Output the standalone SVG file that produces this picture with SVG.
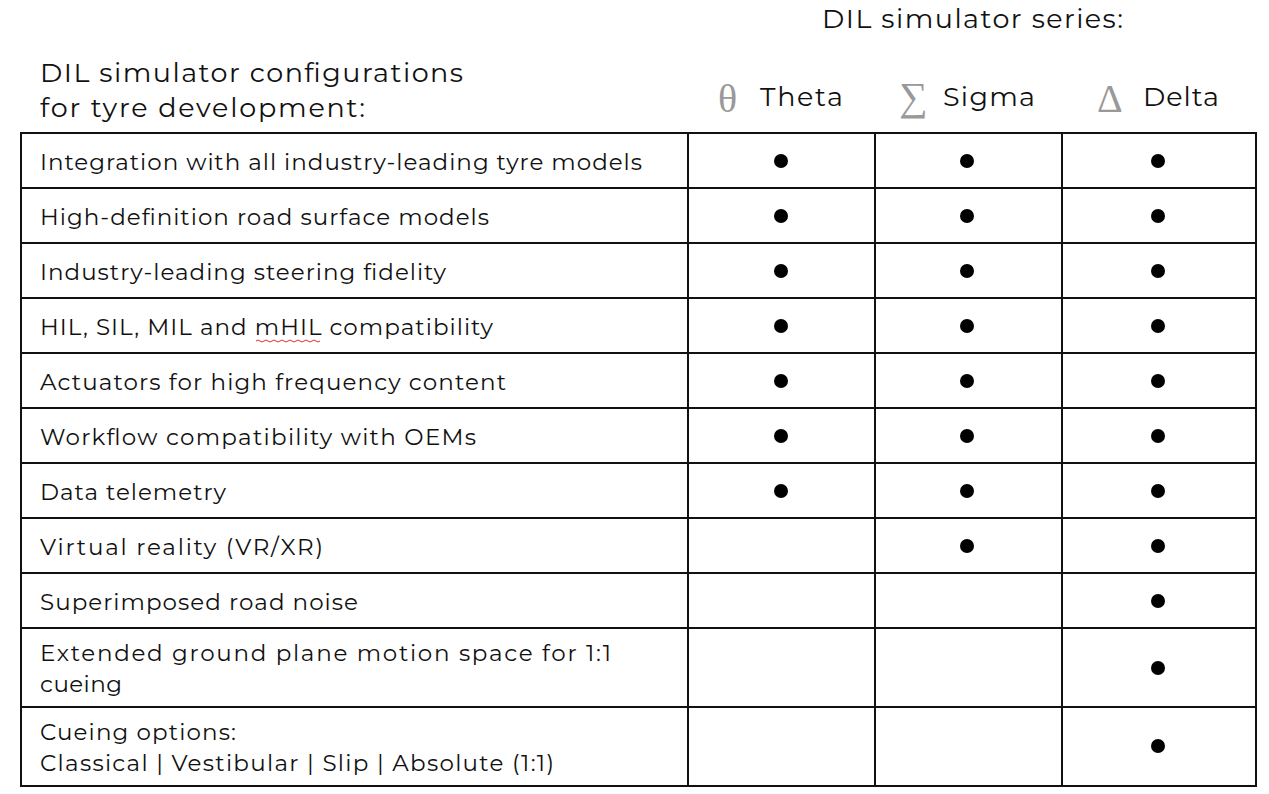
<svg xmlns="http://www.w3.org/2000/svg" width="1269" height="794" viewBox="0 0 1269 794">
<style>
.t{font-family:"Montserrat","Liberation Sans",Arial,sans-serif;font-size:23px;fill:#111}
.h{font-family:"Montserrat","Liberation Sans",Arial,sans-serif;font-size:27px;fill:#111}
.s{font-family:"Liberation Serif",serif;font-size:40px;fill:#999}
.g{stroke:#111;stroke-width:2;fill:none}
.d{fill:#000}
</style>
<rect width="1269" height="794" fill="#fff"/>
<g id="header">
<text class="h" x="822" y="28" textLength="301" lengthAdjust="spacing">DIL simulator series:</text>
<text class="h" x="40" y="82" textLength="423" lengthAdjust="spacing">DIL simulator configurations</text>
<text class="h" x="40" y="117" textLength="325" lengthAdjust="spacing">for tyre development:</text>
<text class="s" x="718" y="112">θ</text><text class="h" x="760" y="106" textLength="83" lengthAdjust="spacing">Theta</text>
<text class="s" x="899" y="110">∑</text><text class="h" x="943" y="106" textLength="92" lengthAdjust="spacing">Sigma</text>
<text class="s" x="1097" y="112">Δ</text><text class="h" x="1143" y="106" textLength="76" lengthAdjust="spacing">Delta</text>
</g>
<g id="grid" class="g">
<rect x="21" y="133" width="1235" height="653"/>
<path d="M688 133V786M875 133V786M1062 133V786M21 188H1256M21 243H1256M21 298H1256M21 353H1256M21 408H1256M21 463H1256M21 518H1256M21 573H1256M21 628H1256M21 707H1256"/>
</g>
<g id="rows">
<text class="t" x="40" y="170" textLength="602" lengthAdjust="spacing">Integration with all industry-leading tyre models</text>
<text class="t" x="40" y="225" textLength="449" lengthAdjust="spacing">High-definition road surface models</text>
<text class="t" x="40" y="280" textLength="406" lengthAdjust="spacing">Industry-leading steering fidelity</text>
<text class="t" x="40" y="335" textLength="453" lengthAdjust="spacing">HIL, SIL, MIL and mHIL compatibility</text>
<path d="M256 341q2-2 4 0t4 0t4 0t4 0t4 0t4 0t4 0t4 0t4 0t4 0t4 0t4 0t4 0t4 0t4 0t4 0" stroke="#d33" stroke-width="1" fill="none"/>
<text class="t" x="40" y="390" textLength="466" lengthAdjust="spacing">Actuators for high frequency content</text>
<text class="t" x="40" y="445" textLength="436" lengthAdjust="spacing">Workflow compatibility with OEMs</text>
<text class="t" x="40" y="500" textLength="186" lengthAdjust="spacing">Data telemetry</text>
<text class="t" x="40" y="555" textLength="283" lengthAdjust="spacing">Virtual reality (VR/XR)</text>
<text class="t" x="40" y="610" textLength="318" lengthAdjust="spacing">Superimposed road noise</text>
<text class="t" x="40" y="661" textLength="571" lengthAdjust="spacing">Extended ground plane motion space for 1:1</text>
<text class="t" x="40" y="692" textLength="82" lengthAdjust="spacing">cueing</text>
<text class="t" x="40" y="740" textLength="196" lengthAdjust="spacing">Cueing options:</text>
<text class="t" x="40" y="771" textLength="514" lengthAdjust="spacing">Classical | Vestibular | Slip | Absolute (1:1)</text>
</g>
<g id="dots" class="d">
<circle cx="781" cy="161" r="7"/><circle cx="967" cy="161" r="7"/><circle cx="1158" cy="161" r="7"/>
<circle cx="781" cy="216" r="7"/><circle cx="967" cy="216" r="7"/><circle cx="1158" cy="216" r="7"/>
<circle cx="781" cy="271" r="7"/><circle cx="967" cy="271" r="7"/><circle cx="1158" cy="271" r="7"/>
<circle cx="781" cy="326" r="7"/><circle cx="967" cy="326" r="7"/><circle cx="1158" cy="326" r="7"/>
<circle cx="781" cy="381" r="7"/><circle cx="967" cy="381" r="7"/><circle cx="1158" cy="381" r="7"/>
<circle cx="781" cy="436" r="7"/><circle cx="967" cy="436" r="7"/><circle cx="1158" cy="436" r="7"/>
<circle cx="781" cy="491" r="7"/><circle cx="967" cy="491" r="7"/><circle cx="1158" cy="491" r="7"/>
<circle cx="967" cy="546" r="7"/><circle cx="1158" cy="546" r="7"/>
<circle cx="1158" cy="601" r="7"/>
<circle cx="1158" cy="668" r="7"/>
<circle cx="1158" cy="746" r="7"/>
</g>
</svg>
